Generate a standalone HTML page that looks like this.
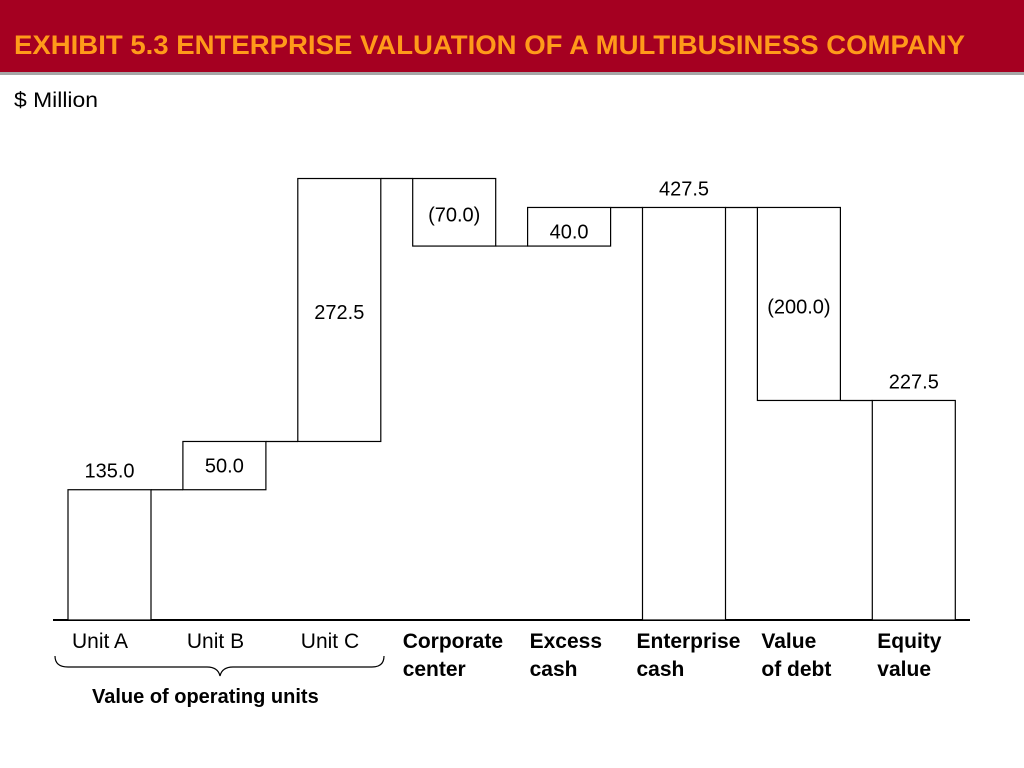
<!DOCTYPE html>
<html><head><meta charset="utf-8"><style>
body{margin:0;background:#fff;}
svg{display:block;font-family:"Liberation Sans",Arial,sans-serif;}
</style></head><body>
<svg id="c" width="1024" height="768">
<rect x="0" y="0" width="1024" height="72" fill="#a50021"/>
<rect x="0" y="72" width="1024" height="3" fill="#6b6b6b" opacity="0.6"/>
<text x="14" y="54" font-size="27" font-weight="bold" fill="#ff9a1a" textLength="951" lengthAdjust="spacingAndGlyphs">EXHIBIT 5.3 ENTERPRISE VALUATION OF A MULTIBUSINESS COMPANY</text>
<text x="14" y="107" font-size="21" fill="#000" textLength="84" lengthAdjust="spacingAndGlyphs">$ Million</text>
<line x1="53" y1="620" x2="970" y2="620" stroke="#000" stroke-width="2"/>
<g id="bars"></g>
<path d="M55,656 Q55,667 68,667 L207,667 Q218,667 220,676 Q222,667 233,667 L372,667 Q384,667 384,656" fill="none" stroke="#000" stroke-width="1.2"/>
<text x="92" y="703" font-size="20" font-weight="bold">Value of operating units</text>
</svg>
<script>
const categories=[["Unit A"],["Unit B"],["Unit C"],["Corporate","center"],["Excess","cash"],["Enterprise","cash"],["Value","of debt"],["Equity","value"]];
const values=[135.0,50.0,272.5,-70.0,40.0,427.5,-200.0,227.5];
const isTotal=[false,false,false,false,false,true,false,true];
const boldLabel=[false,false,false,true,true,true,true,true];
const valueLabels=["135.0","50.0","272.5","(70.0)","40.0","427.5","(200.0)","227.5"];
const base=620,scale=0.965,x0=68,step=114.9,bw=83;
const catOffset=[4,4,3,-10,2,-6,4,5];
const y=v=>base-v*scale;
const xb=i=>x0+i*step;
const g=document.getElementById('bars');
const NS='http://www.w3.org/2000/svg';
function mk(t,a){const e=document.createElementNS(NS,t);for(const k in a)e.setAttribute(k,a[k]);return e;}
let run=0;
values.forEach((v,i)=>{
  let lo,hi,end;
  if(isTotal[i]){lo=0;hi=v;end=v;}
  else{end=run+v;lo=Math.min(run,end);hi=Math.max(run,end);}
  const x=xb(i);
  const r=mk('rect',{x:x,y:y(hi),width:bw,height:(hi-lo)*scale,fill:'#fff',stroke:'#000','stroke-width':1.2});
  
  
  g.appendChild(r);
  if(i>0){
    const cl=mk('line',{x1:xb(i-1)+bw,x2:x,y1:y(run),y2:y(run),stroke:'#000','stroke-width':1.2});
    
    
    g.appendChild(cl);
  }
  let ly;
  if(isTotal[i]||i===0) ly=y(hi)-12;
  else if(v<0) ly=y(hi)+43;
  else ly=y(hi)+31;
  if(i===2) ly=(y(hi)+y(lo))/2+9;
  if(i===6) ly=y(hi)+106;
  const t=mk('text',{x:x+bw/2,y:ly,'font-size':20,'text-anchor':'middle'});
  t.textContent=valueLabels[i];
  
  
  g.appendChild(t);
  categories[i].forEach((ln,k)=>{
    const c=mk('text',{x:x+catOffset[i],y:648+k*28,'font-size':boldLabel[i]?21:21,'font-weight':boldLabel[i]?'bold':'normal'});
    c.textContent=ln;
    
    
    g.appendChild(c);
  });
  run=end;
});
</script>
</body></html>
